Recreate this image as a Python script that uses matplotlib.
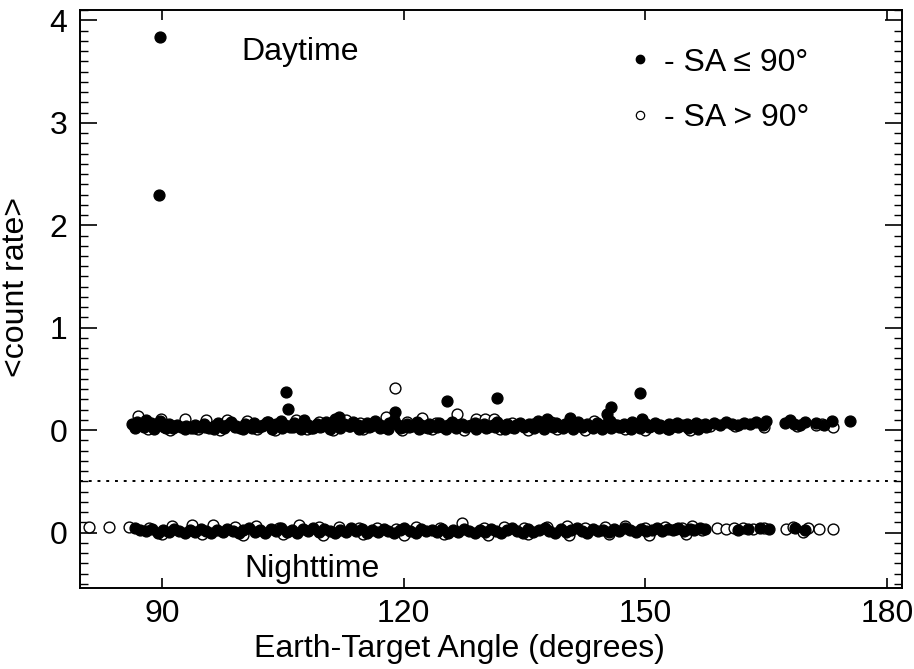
import numpy as np
import matplotlib
matplotlib.use("Agg")
import matplotlib.pyplot as plt
from matplotlib.lines import Line2D
from matplotlib.ticker import MultipleLocator

plt.rcParams['font.family'] = ['Liberation Sans', 'DejaVu Sans']

# (Earth-Target angle, <count rate>) pairs.
# Nighttime values are drawn one unit lower (offset = -1) below the dotted line.
day_sa_le90 = [
    (89.8, 3.84), (89.6, 2.30), (105.4, 0.37), (105.6, 0.21), (118.9, 0.18),
    (125.4, 0.29), (131.6, 0.31), (145.8, 0.23), (145.2, 0.16), (149.3, 0.36),
    (175.4, 0.09),
    (86.3, 0.06), (86.9, 0.08), (87.4, 0.05), (88.0, 0.10), (88.6, 0.07),
    (89.1, 0.04), (89.7, 0.09), (90.2, 0.03), (90.8, 0.06), (91.3, 0.02),
    (91.9, 0.05), (92.4, 0.03), (93.0, 0.04), (93.6, 0.02), (94.1, 0.05),
    (94.7, 0.03), (95.2, 0.06), (95.8, 0.02), (96.4, 0.04), (96.9, 0.07),
    (97.5, 0.03), (98.0, 0.05), (98.6, 0.08), (99.2, 0.04), (99.7, 0.02),
    (100.3, 0.06), (100.8, 0.04), (101.4, 0.07), (102.0, 0.03), (102.5, 0.05),
    (103.1, 0.08), (103.6, 0.04), (104.2, 0.06), (104.8, 0.09), (105.3, 0.05),
    (105.9, 0.03), (106.4, 0.07), (107.0, 0.04), (107.6, 0.10), (108.1, 0.05),
    (108.7, 0.02), (109.2, 0.06), (109.8, 0.04), (110.4, 0.08), (110.9, 0.03),
    (111.5, 0.11), (112.0, 0.13), (112.6, 0.06), (113.2, 0.04), (113.7, 0.08),
    (114.3, 0.05), (114.8, 0.03), (115.4, 0.07), (116.0, 0.04), (116.5, 0.09),
    (117.1, 0.05), (117.6, 0.03), (118.2, 0.07), (118.8, 0.10), (119.3, 0.05),
    (119.9, 0.03), (120.4, 0.06), (121.0, 0.04), (121.6, 0.08), (122.1, 0.05),
    (122.7, 0.03), (123.2, 0.06), (123.8, 0.04), (124.4, 0.07), (124.9, 0.03),
    (125.5, 0.05), (126.0, 0.08), (126.6, 0.04), (127.2, 0.06), (127.7, 0.03),
    (128.3, 0.05), (128.8, 0.07), (129.4, 0.04), (130.0, 0.06), (130.5, 0.03),
    (131.1, 0.05), (131.6, 0.08), (132.2, 0.04), (132.8, 0.06), (133.3, 0.03),
    (133.9, 0.05), (134.4, 0.07), (135.0, 0.04), (135.6, 0.06), (136.1, 0.03),
    (136.7, 0.09), (137.2, 0.05), (137.8, 0.11), (138.4, 0.04), (138.9, 0.07),
    (139.5, 0.03), (140.0, 0.06), (140.6, 0.12), (141.2, 0.05), (141.7, 0.08),
    (142.3, 0.04), (142.8, 0.06), (143.4, 0.03), (144.0, 0.07), (144.5, 0.04),
    (145.1, 0.06), (145.6, 0.09), (146.2, 0.05), (146.8, 0.03), (147.3, 0.06),
    (147.9, 0.04), (148.4, 0.08), (149.0, 0.05), (149.6, 0.11), (150.1, 0.06),
    (150.7, 0.04), (151.2, 0.07), (151.8, 0.05), (152.4, 0.03), (152.9, 0.06),
    (153.5, 0.04), (154.0, 0.07), (154.6, 0.05), (155.2, 0.06), (155.7, 0.04),
    (156.3, 0.07), (156.8, 0.05), (157.4, 0.06),
    (158.5, 0.07), (159.3, 0.05), (160.0, 0.08), (160.8, 0.06), (161.5, 0.05),
    (162.3, 0.07), (163.0, 0.06), (163.8, 0.08), (164.6, 0.05), (165.0, 0.09),
    (167.4, 0.07), (168.0, 0.10), (168.5, 0.06), (169.2, 0.05), (169.8, 0.08),
    (171.2, 0.07), (172.2, 0.05), (173.2, 0.09),
    (86.6, 0.02), (87.8, 0.03), (89.0, 0.01), (90.5, 0.02), (91.6, 0.04),
    (92.8, 0.01), (94.0, 0.02), (95.3, 0.03), (96.5, 0.01), (97.7, 0.02),
    (99.0, 0.03), (100.1, 0.01), (101.2, 0.02), (102.4, 0.04), (103.7, 0.01),
    (104.9, 0.02), (106.2, 0.03), (107.3, 0.01), (108.5, 0.02), (109.6, 0.03),
    (110.8, 0.01), (112.1, 0.02), (113.3, 0.04), (114.5, 0.01), (115.7, 0.03),
    (117.0, 0.02), (118.1, 0.01), (119.5, 0.02), (120.7, 0.03), (121.9, 0.01),
    (123.0, 0.02), (124.2, 0.03), (125.3, 0.01), (126.5, 0.02), (127.9, 0.04),
    (129.0, 0.01), (130.2, 0.02), (131.4, 0.03), (132.6, 0.01), (133.7, 0.02),
    (134.9, 0.03), (136.2, 0.02), (137.4, 0.01), (138.6, 0.03), (139.8, 0.02),
    (141.0, 0.01), (142.1, 0.03), (143.5, 0.02), (144.6, 0.01), (145.8, 0.02),
    (147.0, 0.03), (148.2, 0.01), (149.3, 0.02), (150.5, 0.03), (151.7, 0.02),
    (152.8, 0.01), (154.1, 0.03), (155.3, 0.02), (156.5, 0.01), (157.6, 0.03),
]

day_sa_gt90 = [
    (87.0, 0.14), (89.9, 0.11), (92.8, 0.11), (95.4, 0.10), (98.1, 0.10),
    (100.5, 0.09), (103.0, 0.08), (106.6, 0.10), (109.5, 0.08), (112.8, 0.10),
    (114.6, 0.07), (117.8, 0.13), (118.9, 0.41), (120.4, 0.08), (122.3, 0.12),
    (124.0, 0.07), (126.6, 0.16), (129.0, 0.11), (130.1, 0.11), (131.2, 0.11),
    (133.5, 0.07), (136.0, 0.06), (138.3, 0.08), (141.0, 0.07), (143.6, 0.09),
    (146.5, 0.05), (148.7, 0.06), (151.5, 0.05), (153.8, 0.04), (156.0, 0.05),
    (158.0, 0.04), (161.2, 0.04), (164.8, 0.03), (168.8, 0.04), (171.2, 0.05),
    (172.0, 0.06), (173.3, 0.03),
    (88.3, 0.01), (91.0, 0.00), (94.5, 0.01), (97.2, 0.00), (101.8, 0.01),
    (104.0, 0.00), (108.0, 0.01), (111.2, 0.00), (115.0, 0.01), (119.8, 0.00),
    (123.5, 0.01), (127.5, 0.00), (132.0, 0.01), (135.5, 0.00), (139.0, 0.01),
    (142.5, 0.00), (147.5, 0.01), (150.0, 0.00), (153.0, 0.01), (155.5, 0.00),
]

night_sa_le90 = [
    (86.6, 0.05), (87.3, 0.03), (88.0, 0.02), (88.7, 0.04), (89.5, 0.00),
    (90.1, 0.03), (90.8, 0.01), (91.5, 0.04), (92.1, 0.02), (92.8, 0.00),
    (93.5, 0.03), (94.1, 0.01), (94.8, 0.04), (95.5, 0.02), (96.1, 0.00),
    (96.8, 0.03), (97.5, 0.01), (98.1, 0.04), (98.8, 0.02), (99.5, 0.00),
    (100.1, 0.03), (100.8, 0.05), (101.5, 0.01), (102.1, 0.03), (102.8, 0.00),
    (103.5, 0.04), (104.1, 0.02), (104.8, 0.05), (105.5, 0.01), (106.1, 0.03),
    (106.8, 0.00), (107.5, 0.04), (108.1, 0.02), (108.8, 0.05), (109.5, 0.01),
    (110.1, 0.04), (110.8, 0.02), (111.5, 0.00), (112.1, 0.03), (112.8, 0.01),
    (113.5, 0.05), (114.1, 0.02), (114.8, 0.04), (115.5, 0.00), (116.1, 0.03),
    (116.8, 0.01), (117.5, 0.04), (118.1, 0.02), (118.8, 0.00), (119.5, 0.03),
    (120.1, 0.05), (120.8, 0.02), (121.5, 0.00), (122.1, 0.04), (122.8, 0.02),
    (123.5, 0.03), (124.1, 0.01), (124.8, 0.04), (125.5, 0.00), (126.1, 0.03),
    (126.8, 0.01), (127.5, 0.04), (128.1, 0.02), (128.8, 0.00), (129.5, 0.03),
    (130.1, 0.01), (130.8, 0.04), (131.5, 0.02), (132.1, 0.00), (132.8, 0.03),
    (133.5, 0.05), (134.1, 0.02), (134.8, 0.00), (135.5, 0.04), (136.1, 0.01),
    (136.8, 0.03), (137.5, 0.05), (138.1, 0.02), (138.8, 0.00), (139.5, 0.04),
    (140.1, 0.01), (140.8, 0.03), (141.5, 0.05), (142.1, 0.02), (142.8, 0.00),
    (143.5, 0.04), (144.1, 0.02), (144.8, 0.03), (145.5, 0.01), (146.1, 0.04),
    (146.8, 0.02), (147.5, 0.05), (148.1, 0.03), (148.8, 0.01), (149.5, 0.04),
    (150.1, 0.02), (150.8, 0.03), (151.5, 0.05), (152.1, 0.02), (152.8, 0.04),
    (153.5, 0.03), (154.1, 0.05), (154.8, 0.02), (155.5, 0.04), (156.1, 0.03),
    (156.8, 0.05), (157.4, 0.04),
    (161.5, 0.03), (162.8, 0.04), (164.2, 0.05), (165.4, 0.04),
    (168.6, 0.05), (169.8, 0.03),
]

night_sa_gt90 = [
    (80.9, 0.06), (83.4, 0.06), (85.9, 0.06), (88.4, 0.05), (91.2, 0.07),
    (93.7, 0.08), (96.3, 0.08), (99.0, 0.06), (101.6, 0.07), (104.5, 0.05),
    (107.0, 0.08), (109.5, 0.06), (112.0, 0.06), (114.5, 0.05), (116.7, 0.05),
    (119.0, 0.04), (121.5, 0.06), (124.5, 0.05), (127.3, 0.09), (130.0, 0.05),
    (132.5, 0.06), (135.0, 0.05), (137.8, 0.06), (140.3, 0.07), (142.5, 0.05),
    (145.0, 0.06), (147.5, 0.07), (150.0, 0.05), (152.5, 0.06), (153.8, 0.04),
    (154.6, 0.05), (155.8, 0.07), (157.0, 0.03), (158.9, 0.05), (160.0, 0.04),
    (161.0, 0.05), (162.2, 0.05), (163.4, 0.04), (164.8, 0.05), (167.5, 0.04),
    (168.3, 0.06), (169.6, 0.01), (170.2, 0.05), (171.6, 0.04), (173.3, 0.04),
    (90.0, -0.01), (95.0, -0.01), (100.0, -0.02), (105.0, -0.01), (110.0, -0.02),
    (115.0, -0.01), (120.0, -0.02), (125.0, -0.01), (130.5, -0.02), (135.5, -0.01),
    (140.5, -0.02), (145.5, -0.01), (150.5, -0.02), (155.0, -0.01),
]

night_offset = -1.0
y_ticks = [4, 3, 2, 1, 0, -1]
y_tick_labels = ['4', '3', '2', '1', '0', '0']
x_ticks = [90, 120, 150, 180]


def split(pairs, offset=0.0):
    arr = np.array(pairs, dtype=float)
    return arr[:, 0], arr[:, 1] + offset


fig = plt.figure(figsize=(9.14, 6.69), dpi=100)
ax = fig.add_axes([0.0875, 0.121, 0.8995, 0.864])

fs = 23
ms = 7.8
open_kw = dict(linestyle='none', marker='o', markersize=ms, markerfacecolor='white',
               markeredgecolor='black', markeredgewidth=1.0)
fill_kw = dict(linestyle='none', marker='o', markersize=ms, color='black')

x, y = split(day_sa_gt90)
ax.plot(x, y, **open_kw)
x, y = split(night_sa_gt90, night_offset)
ax.plot(x, y, **open_kw)
x, y = split(day_sa_le90)
ax.plot(x, y, **fill_kw)
x, y = split(night_sa_le90, night_offset)
ax.plot(x, y, **fill_kw)

ax.axhline(-0.5, color='black', linestyle=(0, (1.5, 3)), linewidth=1.4)

ax.set_xlim(79.8, 181.9)
ax.set_ylim(-1.54, 4.1)

ax.set_xticks(x_ticks)
ax.set_yticks(y_ticks)
ax.set_yticklabels(y_tick_labels)
ax.yaxis.set_minor_locator(MultipleLocator(0.1))
ax.tick_params(axis='y', which='major', direction='in', length=12, width=1.2,
               right=True, labelsize=fs, pad=9)
ax.tick_params(axis='y', which='minor', direction='in', length=6, width=1.0, right=True)
ax.tick_params(axis='x', which='major', direction='in', length=7, width=1.2,
               top=True, labelsize=fs, pad=8)
for s in ax.spines.values():
    s.set_linewidth(1.4)

ax.set_xlabel('Earth-Target Angle (degrees)', fontsize=fs)
ax.set_ylabel('<count rate>', fontsize=fs)
ax.xaxis.set_label_coords(0.462, -0.08)
ax.yaxis.set_label_coords(-0.06, 0.52)

ax.text(99.9, 3.69, 'Daytime', fontsize=fs, ha='left', va='center')
ax.text(100.2, -1.35, 'Nighttime', fontsize=fs, ha='left', va='center')

handles = [
    Line2D([], [], linestyle='none', marker='o', markersize=6, color='black'),
    Line2D([], [], linestyle='none', marker='o', markersize=6, markerfacecolor='white',
           markeredgecolor='black', markeredgewidth=0.9),
]
ax.legend(handles, ['- SA \u2264 90\u00b0', '- SA > 90\u00b0'], loc='upper left',
          bbox_to_anchor=(0.646, 0.957), frameon=False, fontsize=fs,
          handletextpad=0.25, labelspacing=0.8, handlelength=1.0, borderaxespad=0)

fig.savefig('out.png', dpi=100)
